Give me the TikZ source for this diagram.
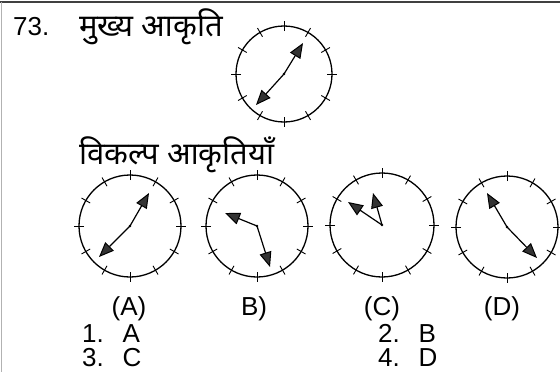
\documentclass[tikz,border=0pt]{standalone}
\usepackage{fontspec}
\setmainfont{Liberation Sans}
\newfontfamily\deva[Script=Devanagari]{Noto Sans}
\usetikzlibrary{arrows.meta,calc}
\tikzset{
  clock/.style={circle,draw,line width=1.3pt,inner sep=0pt},
  tick/.style={line width=0.9pt},
  hand/.style={line width=1.2pt,-{Triangle[length=15pt,width=12pt,fill=gray!40!black,line width=1pt]}},
  lbl/.style={font=\fontsize{26}{30}\selectfont,inner sep=0pt,anchor=base},
  hindi/.style={font=\deva\fontsize{31}{36}\selectfont,inner sep=0pt,anchor=base west},
}
\begin{document}
\begin{tikzpicture}[x=1pt,y=-1pt]
\useasboundingbox (0,0) rectangle (560,372);
\fill[white] (0,0) rectangle (560,372);
\draw[line width=1.6pt,black!75] (0,2) -- (560,2);
\draw[line width=0.8pt,black!30] (1,2) -- (1,372);
% texts
\node[lbl,anchor=base west] (num) at (13,35) {73.};
\node[hindi] (main) at (79,36) {मुख्य आकृति};
\node[hindi] (opts) at (79,164) {विकल्प आकृतियाँ};
% clocks
\foreach \n/\cx/\cy/\r/\ax/\ay/\bx/\by in {
  m/284/74/48/19/-31/-28/31,
  a/130/226/51/19/-33/-31/31,
  b/257/226/51/-32/-13/13/41,
  c/382/225/52/-34/-23/-9/-32,
  d/507/227/51/-20/-34/30/31}{
  \node[clock,minimum size=2*\r pt] (\n) at (\cx,\cy) {};
  \foreach \t in {0,30,...,330}
    \draw[tick] ($(\n.center)+(\t:\r-5)$) -- ($(\n.center)+(\t:\r+5)$);
  \coordinate (\n h1) at ($(\n.center)+(\ax,\ay)$);
  \coordinate (\n h2) at ($(\n.center)+(\bx,\by)$);
  \draw[hand] (\n.center) -- (\n h1);
  \draw[hand] (\n.center) -- (\n h2);
  \fill (\n.center) circle (1.4);
}
\node[lbl] (la) at (129,315) {(A)};
\node[lbl] (lb) at (254,315) {B)};
\node[lbl] (lc) at (382,315) {(C)};
\node[lbl] (ld) at (502,315) {(D)};
\node[lbl,anchor=base west] (o1) at (82,342) {1.\ \ \,A};
\node[lbl,anchor=base west] (o2) at (378,342) {2.\ \ \,B};
\node[lbl,anchor=base west] (o3) at (82,366) {3.\ \ \,C};
\node[lbl,anchor=base west] (o4) at (378,366) {4.\ \ \,D};
\end{tikzpicture}
\end{document}
